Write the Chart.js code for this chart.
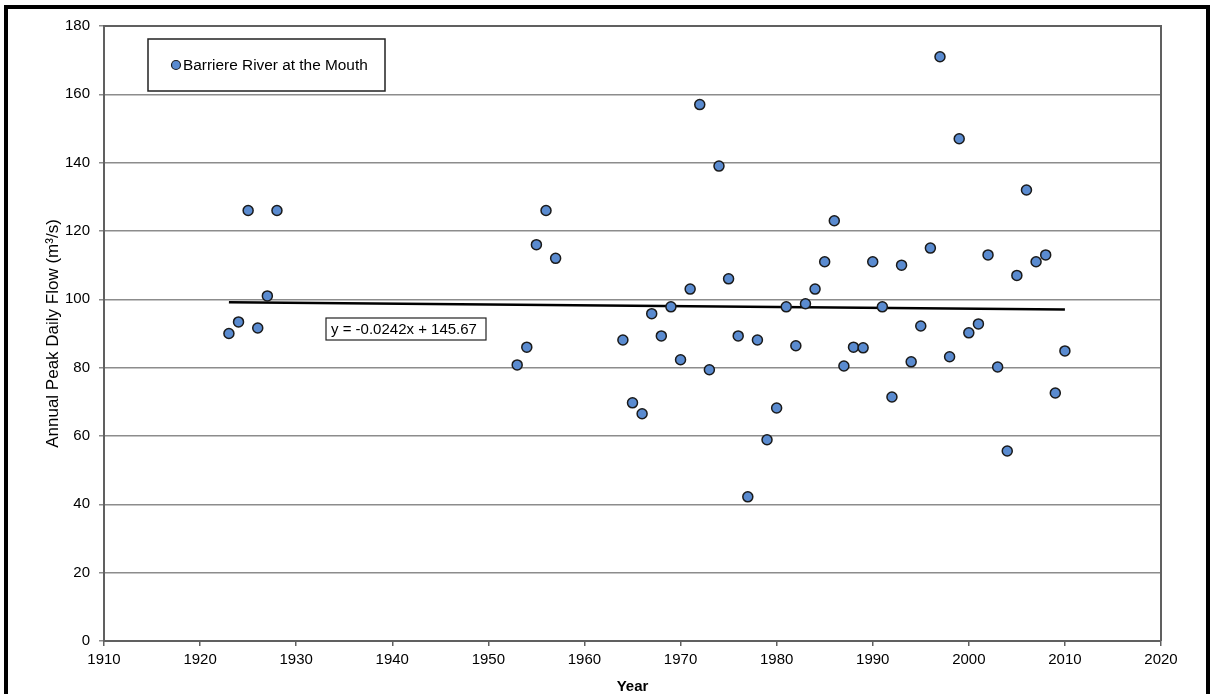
<!DOCTYPE html>
<html>
<head>
<meta charset="utf-8">
<title>Barriere River at the Mouth - Annual Peak Daily Flow</title>
<script src="https://cdn.jsdelivr.net/npm/chart.js@4.4.1/dist/chart.umd.min.js"></script>
<style>
  html, body { margin: 0; padding: 0; background: #fff; }
  body { position: relative; width: 1210px; height: 694px; overflow: hidden; }
  .frame {
    position: absolute; left: 4px; top: 5px;
    width: 1198px; height: 700px;
    border: 4px solid #000;
  }
  #flowChart { position: absolute; left: 0; top: 0; }
</style>
</head>
<body>
<div class="frame"></div>
<canvas id="flowChart" width="1210" height="694"></canvas>
<script>
// Annual peak daily flow, Barriere River at the Mouth (m3/s)
const years = [
  1923, 1924, 1925, 1926, 1927, 1928,
  1953, 1954, 1955, 1956, 1957,
  1964, 1965, 1966, 1967, 1968, 1969, 1970, 1971, 1972, 1973, 1974,
  1975, 1976, 1977, 1978, 1979, 1980, 1981, 1982, 1983, 1984, 1985,
  1986, 1987, 1988, 1989, 1990, 1991, 1992, 1993, 1994, 1995, 1996,
  1997, 1998, 1999, 2000, 2001, 2002, 2003, 2004, 2005, 2006, 2007,
  2008, 2009, 2010
];
const peakFlows = [
  90, 93.4, 126, 91.6, 101, 126,
  80.8, 86, 116, 126, 112,
  88.1, 69.7, 66.5, 95.8, 89.3, 97.8, 82.3, 103, 157, 79.4, 139,
  106, 89.3, 42.2, 88.1, 58.9, 68.2, 97.8, 86.4, 98.7, 103, 111,
  123, 80.5, 86, 85.8, 111, 97.8, 71.4, 110, 81.7, 92.2, 115,
  171, 83.2, 147, 90.2, 92.8, 113, 80.2, 55.6, 107, 132, 111,
  113, 72.6, 84.9
];

// Linear trend as printed on the chart
const trendSlope = -0.0242;
const trendIntercept = 145.67;
const trendYears = [1923, 2010];

const yTicks = { min: 0, max: 180, step: 20 };
const xTicks = { min: 1910, max: 2020, step: 10 };

const seriesLabel = 'Barriere River at the Mouth';
const trendLabel = 'y = -0.0242x + 145.67';

const pointFill = '#5a8bd0';
const pointEdge = '#1a1a1a';
const axisGray = '#606060';
const gridGray = '#8c8c8c';

const flowPoints = years.map((yr, i) => ({ x: yr, y: peakFlows[i] }));
const trendPoints = trendYears.map(yr => ({ x: yr, y: trendSlope * yr + trendIntercept }));

const fontStack = '"Liberation Sans", Arial, sans-serif';

// Right-hand and top edges of the plot area
const plotFrame = {
  id: 'plotFrame',
  afterDatasetsDraw(chart) {
    const { ctx, chartArea: a } = chart;
    ctx.save();
    ctx.strokeStyle = axisGray;
    ctx.lineWidth = 2;
    ctx.beginPath();
    ctx.moveTo(a.left, a.top);
    ctx.lineTo(a.right, a.top);
    ctx.lineTo(a.right, a.bottom);
    ctx.stroke();
    ctx.restore();
  }
};

// Boxed series key in the upper left of the plot
const seriesKey = {
  id: 'seriesKey',
  afterDraw(chart) {
    const { ctx, chartArea: a } = chart;
    const x = a.left + 44, y = a.top + 13, w = 237, h = 52;
    ctx.save();
    ctx.fillStyle = '#fff';
    ctx.fillRect(x, y, w, h);
    ctx.strokeStyle = '#222';
    ctx.lineWidth = 1.5;
    ctx.strokeRect(x, y, w, h);
    ctx.beginPath();
    ctx.arc(x + 28, y + 26, 4.5, 0, Math.PI * 2);
    ctx.fillStyle = pointFill;
    ctx.fill();
    ctx.strokeStyle = pointEdge;
    ctx.lineWidth = 1.2;
    ctx.stroke();
    ctx.fillStyle = '#000';
    ctx.font = '15.4px ' + fontStack;
    ctx.textBaseline = 'middle';
    ctx.fillText(seriesLabel, x + 35, y + 27);
    ctx.restore();
  }
};

// Trend equation label
const trendNote = {
  id: 'trendNote',
  afterDraw(chart) {
    const { ctx, chartArea: a } = chart;
    const x = a.left + 222, y = a.top + 292, w = 160, h = 22;
    ctx.save();
    ctx.fillStyle = '#fff';
    ctx.fillRect(x, y, w, h);
    ctx.strokeStyle = '#222';
    ctx.lineWidth = 1.2;
    ctx.strokeRect(x, y, w, h);
    ctx.fillStyle = '#000';
    ctx.font = '15px ' + fontStack;
    ctx.textBaseline = 'middle';
    ctx.fillText(trendLabel, x + 5, y + h / 2 + 1);
    ctx.restore();
  }
};

const tickFont = { family: fontStack, size: 15 };

new Chart(document.getElementById('flowChart'), {
  type: 'scatter',
  data: {
    datasets: [
      {
        label: seriesLabel,
        data: flowPoints,
        backgroundColor: pointFill,
        borderColor: pointEdge,
        borderWidth: 1.5,
        pointRadius: 5,
        pointHoverRadius: 5,
        order: 1
      },
      {
        type: 'line',
        label: 'Linear trend',
        data: trendPoints,
        borderColor: '#000',
        borderWidth: 2.5,
        pointRadius: 0,
        fill: false,
        order: 2
      }
    ]
  },
  options: {
    responsive: false,
    animation: false,
    devicePixelRatio: 1,
    layout: { padding: { left: 39, top: 26, right: 49, bottom: 0 } },
    plugins: {
      legend: { display: false },
      tooltip: { enabled: false }
    },
    scales: {
      x: {
        type: 'linear',
        min: xTicks.min,
        max: xTicks.max,
        afterFit(scale) { scale.height = 53; },
        ticks: {
          stepSize: xTicks.step,
          color: '#000',
          font: tickFont,
          padding: 5,
          maxRotation: 0,
          callback: v => String(v)
        },
        grid: { drawOnChartArea: false, drawTicks: true, tickLength: 5, color: axisGray, lineWidth: 1.5 },
        border: { color: axisGray, width: 2 },
        title: {
          display: true, text: 'Year', color: '#000',
          font: { family: fontStack, size: 15, weight: 'bold' },
          padding: { top: 0, bottom: -2 }
        }
      },
      y: {
        min: yTicks.min,
        max: yTicks.max,
        afterFit(scale) { scale.width = 65; },
        ticks: {
          stepSize: yTicks.step,
          color: '#000',
          font: tickFont,
          padding: 9
        },
        grid: { color: gridGray, lineWidth: 1.5, tickLength: 5 },
        border: { color: axisGray, width: 2 },
        title: {
          display: true, text: 'Annual Peak Daily Flow (m\u00b3/s)', color: '#000',
          font: { family: fontStack, size: 17 },
          padding: 4
        }
      }
    }
  },
  plugins: [plotFrame, seriesKey, trendNote]
});
</script>
</body>
</html>
